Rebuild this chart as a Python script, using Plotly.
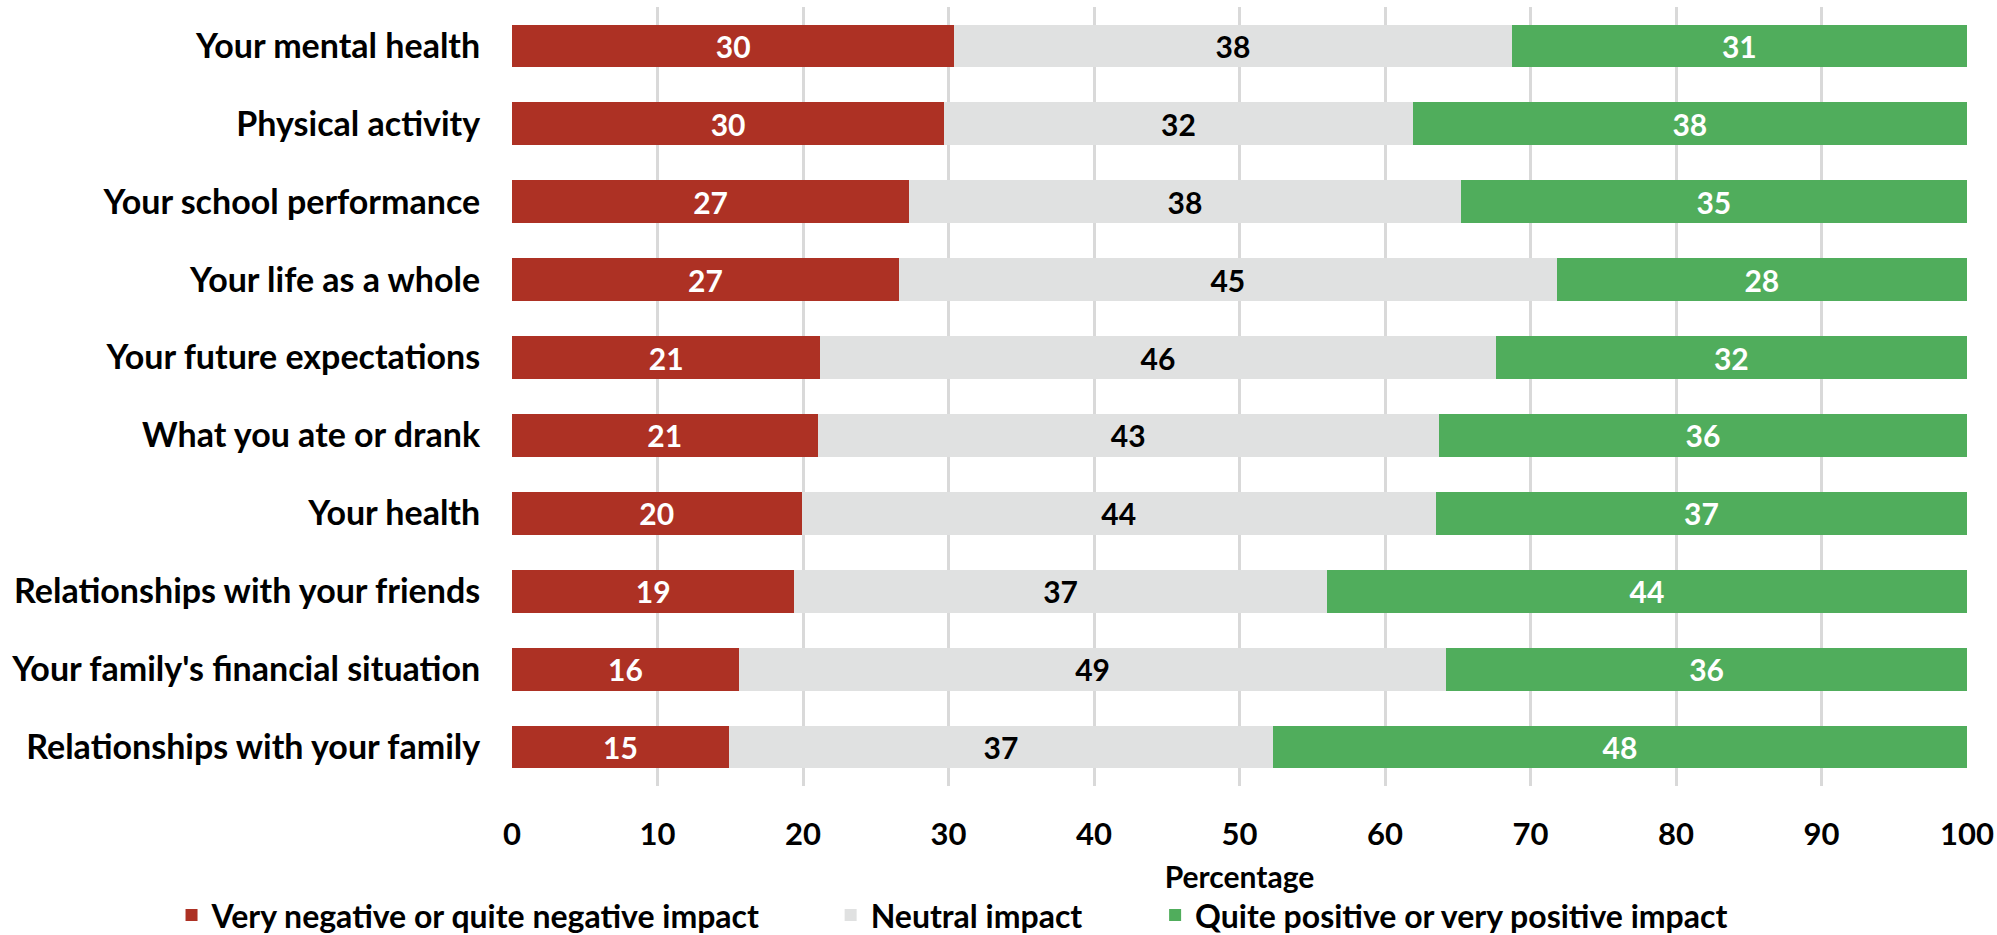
import plotly.graph_objects as go

# Survey items, listed top to bottom
categories = [
    "Your mental health",
    "Physical activity",
    "Your school performance",
    "Your life as a whole",
    "Your future expectations",
    "What you ate or drank",
    "Your health",
    "Relationships with your friends",
    "Your family's financial situation",
    "Relationships with your family",
]

# Share of respondents (%) per impact group
negative = [30.4, 29.7, 27.3, 26.6, 21.2, 21.0, 19.9, 19.4, 15.6, 14.9]
neutral = [38.3, 32.2, 37.9, 45.2, 46.4, 42.7, 43.6, 36.6, 48.6, 37.4]
positive = [31.3, 38.1, 34.8, 28.2, 32.4, 36.3, 36.5, 44.0, 35.8, 47.7]

series_names = [
    "Very negative or quite negative impact",
    "Neutral impact",
    "Quite positive or very positive impact",
]
x_ticks = [0, 10, 20, 30, 40, 50, 60, 70, 80, 90, 100]

FONT = "Lato, 'Open Sans', sans-serif"
colors = ["#AD3124", "#E0E1E1", "#50AD5C"]
label_colors = ["white", "black", "white"]
legend_ids = ["legend", "legend2", "legend3"]
legend_x = [-0.234, 0.219, 0.442]

fig = go.Figure()
for name, vals, col, lcol, lg in zip(series_names, [negative, neutral, positive],
                                     colors, label_colors, legend_ids):
    fig.add_trace(go.Bar(
        y=categories,
        x=vals,
        name=f"<b>{name}</b>",
        orientation="h",
        legend=lg,
        marker=dict(color=col, line=dict(width=0)),
        texttemplate="<b>%{x:.0f}</b>",
        textposition="inside",
        insidetextanchor="middle",
        textangle=0,
        constraintext="none",
        textfont=dict(family=FONT, size=30, color=lcol),
        hoverinfo="skip",
    ))

# one legend box per series so each entry sits at its own position
legend_common = dict(
    orientation="h",
    xanchor="left",
    y=-0.166,
    yanchor="middle",
    font=dict(family=FONT, size=32, color="black"),
    itemclick=False,
    itemdoubleclick=False,
    bgcolor="rgba(0,0,0,0)",
)
legend_layout = {lg: dict(x=lx, **legend_common) for lg, lx in zip(legend_ids, legend_x)}

fig.update_layout(
    barmode="stack",
    bargap=0.45,
    width=1997,
    height=935,
    margin=dict(l=512, r=30, t=7, b=149, autoexpand=False),
    plot_bgcolor="white",
    paper_bgcolor="white",
    font=dict(family=FONT, color="black"),
    showlegend=True,
    **legend_layout,
)

fig.update_xaxes(
    range=[0, 100],
    tickvals=x_ticks,
    ticktext=[f"<b>{v}</b>" for v in x_ticks],
    showgrid=True,
    gridcolor="#D9D9D9",
    gridwidth=2.5,
    zeroline=False,
    showline=False,
    ticks="outside",
    ticklen=21,
    tickcolor="rgba(0,0,0,0)",
    tickfont=dict(family=FONT, size=31, color="black"),
    title=dict(text="<b>Percentage</b>", font=dict(family=FONT, size=30, color="black"), standoff=15),
)

fig.update_yaxes(
    autorange="reversed",
    tickvals=categories,
    ticktext=[f"<b>{c}</b>" for c in categories],
    showgrid=False,
    showline=False,
    ticks="outside",
    ticklen=24,
    tickcolor="rgba(0,0,0,0)",
    tickfont=dict(family=FONT, size=34, color="black"),
)

fig.write_html("out.html")
